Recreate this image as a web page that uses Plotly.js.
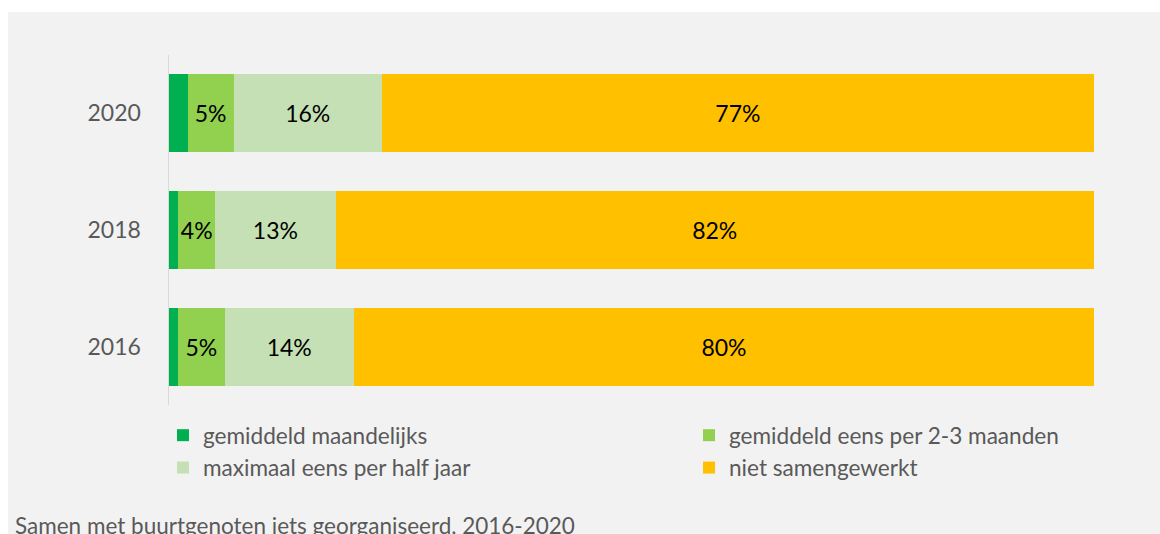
<!DOCTYPE html>
<html>
<head>
<meta charset="utf-8">
<script src="https://cdn.plot.ly/plotly-3.0.1.min.js"></script>
<style>
  html, body { margin: 0; padding: 0; background: #ffffff; }
  #chart { position: absolute; left: 8px; top: 12px; width: 1152px; height: 522px; }
</style>
</head>
<body>
<div id="chart"></div>
<script>
// ---- data ----
const years = ['2016', '2018', '2020'];
const seriesNames = [
  'gemiddeld maandelijks',
  'gemiddeld eens per 2-3 maanden',
  'maximaal eens per half jaar',
  'niet samengewerkt'
];
const maandelijks   = [1, 1, 2];
const per2tot3      = [5, 4, 5];
const halfJaar      = [14, 13, 16];
const nietSamen     = [80, 82, 77];
const seriesValues = [maandelijks, per2tot3, halfJaar, nietSamen];
const seriesColors = ['#00b050', '#92d050', '#c5e0b4', '#ffc000'];
const showLabels   = [false, true, true, true];
const captionText = 'Samen met buurtgenoten iets georganiseerd, 2016-2020';

const FONT = 'Lato, "Open Sans", sans-serif';

// legend column layout: first-column entries set the column pitch
const legendWidths = [481, 345, 481, 345];

const traces = seriesValues.map((vals, i) => ({
  type: 'bar',
  orientation: 'h',
  name: seriesNames[i],
  y: years,
  x: vals,
  marker: { color: seriesColors[i], line: { width: 0 } },
  texttemplate: showLabels[i] ? '%{x}%' : '',
  textposition: showLabels[i] ? 'inside' : 'none',
  insidetextanchor: 'middle',
  textangle: 0,
  constraintext: 'none',
  textfont: { family: FONT, size: 23, color: '#000000' },
  legendwidth: legendWidths[i],
  hoverinfo: 'skip'
}));

const W = 1152, H = 522;
const mL = 161, mR = 66, mT = 42.5, mB = 129;
const plotW = W - mL - mR;
const plotH = H - mT - mB;

const layout = {
  width: W,
  height: H,
  margin: { l: mL, r: mR, t: mT, b: mB, pad: 0 },
  paper_bgcolor: '#f2f2f2',
  plot_bgcolor: '#f2f2f2',
  barmode: 'stack',
  bargap: 0.333,
  font: { family: FONT, size: 23, color: '#595959' },
  showlegend: true,
  legend: {
    orientation: 'h',
    x: -6 / plotW,
    xanchor: 'left',
    y: -9 / plotH,
    yanchor: 'top',
    traceorder: 'normal',
    entrywidthmode: 'pixels',
    bgcolor: 'rgba(0,0,0,0)',
    font: { family: FONT, size: 22.6, color: '#595959' },
    itemclick: false,
    itemdoubleclick: false
  },
  xaxis: {
    visible: false,
    range: [0, 100],
    fixedrange: true
  },
  yaxis: {
    type: 'category',
    categoryorder: 'array',
    categoryarray: years,
    range: [-0.5, 2.5],
    showline: true,
    linecolor: '#d9d9d9',
    linewidth: 1.5,
    showgrid: false,
    zeroline: false,
    ticks: '',
    ticklabelstandoff: 22,
    tickfont: { family: FONT, size: 23, color: '#595959' },
    fixedrange: true
  },
  annotations: [{
    text: captionText,
    xref: 'paper', yref: 'paper',
    x: (5 - mL) / plotW,
    xanchor: 'left',
    y: -121 / plotH,
    yanchor: 'middle',
    showarrow: false,
    font: { family: FONT, size: 22.5, color: '#595959' }
  }]
};

Plotly.newPlot('chart', traces, layout, { displayModeBar: false, staticPlot: true });
</script>
</body>
</html>
